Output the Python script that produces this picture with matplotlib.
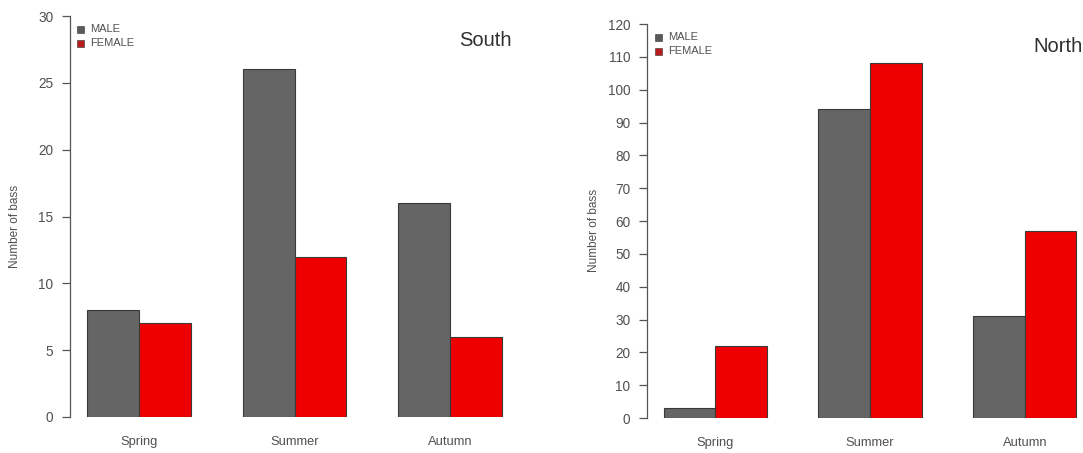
import matplotlib
matplotlib.use("Agg")
import matplotlib.pyplot as plt
from matplotlib.patches import Rectangle

plt.rcParams['font.family'] = ['Liberation Sans', 'DejaVu Sans']

seasons = ["Spring", "Summer", "Autumn"]
south_male = [8, 26, 16]
south_female = [7, 12, 6]
north_male = [3, 94, 31]
north_female = [22, 108, 57]

MALE_COL = '#656565'
FEMALE_COL = '#ee0000'
TXT = '#505050'

W, H = 1083, 453
fig = plt.figure(figsize=(W / 100, H / 100), dpi=100)


def px_axes(left, right, top, bottom):
    return fig.add_axes([left / W, 1 - bottom / H, (right - left) / W, (bottom - top) / H])


def bass_panel(ax, male, female, ymax, step, title, title_xy):
    # R-style barplot: groups of two bars separated by one bar width
    for i in range(len(seasons)):
        x0 = 1 + 3 * i
        ax.bar(x0 + 0.5, male[i], width=1, color=MALE_COL, edgecolor='#3a3a3a', linewidth=0.8)
        ax.bar(x0 + 1.5, female[i], width=1, color=FEMALE_COL, edgecolor='#3a3a3a', linewidth=0.8)
    ax.set_xlim(0.68, 9.32)
    ax.set_ylim(0, ymax)
    for s in ['top', 'right', 'bottom']:
        ax.spines[s].set_visible(False)
    ax.spines['left'].set_color('#555555')
    ax.spines['left'].set_linewidth(0.9)
    ax.spines['left'].set_clip_on(False)
    ax.set_yticks(range(0, ymax + 1, step))
    ax.tick_params(axis='y', length=6, width=0.9, color='#555555', labelcolor=TXT,
                   labelsize=9.8, pad=6)
    ax.set_xticks([2 + 3 * i for i in range(len(seasons))])
    ax.set_xticklabels(seasons)
    ax.tick_params(axis='x', length=0, labelcolor=TXT, labelsize=9.3, pad=14)
    ax.patch.set_visible(False)
    fig.text(title_xy[0] / W, 1 - title_xy[1] / H, title, fontsize=14.5,
             color='#303030', ha='center', va='center')


ax1 = px_axes(70, 519, 16, 417)
bass_panel(ax1, south_male, south_female, 30, 5, "South", (485, 40))
fig.text(15 / W, 1 - 226 / H, "Number of bass", rotation=90, fontsize=8.5,
         color=TXT, ha='center', va='center')

ax2 = px_axes(647, 1093, 24, 418)
bass_panel(ax2, north_male, north_female, 120, 10, "North", (1058, 47))
fig.text(594 / W, 1 - 230 / H, "Number of bass", rotation=90, fontsize=8.5,
         color=TXT, ha='center', va='center')

# legend keys, drawn as small squares with labels
for kx, ky in [(80, 29), (658, 37)]:
    for j, (lab, col) in enumerate([("MALE", '#5a5a5a'), ("FEMALE", '#b81c1c')]):
        yy = ky + 14 * j
        fig.patches.append(Rectangle(((kx - 3.5) / W, 1 - (yy + 3.5) / H), 7 / W, 7 / H,
                                     transform=fig.transFigure, facecolor=col,
                                     edgecolor='#333333', linewidth=0.4))
        fig.text((kx + 10) / W, 1 - yy / H, lab, fontsize=8, color=TXT,
                 ha='left', va='center')

fig.savefig("out.png", dpi=100, facecolor='white')
